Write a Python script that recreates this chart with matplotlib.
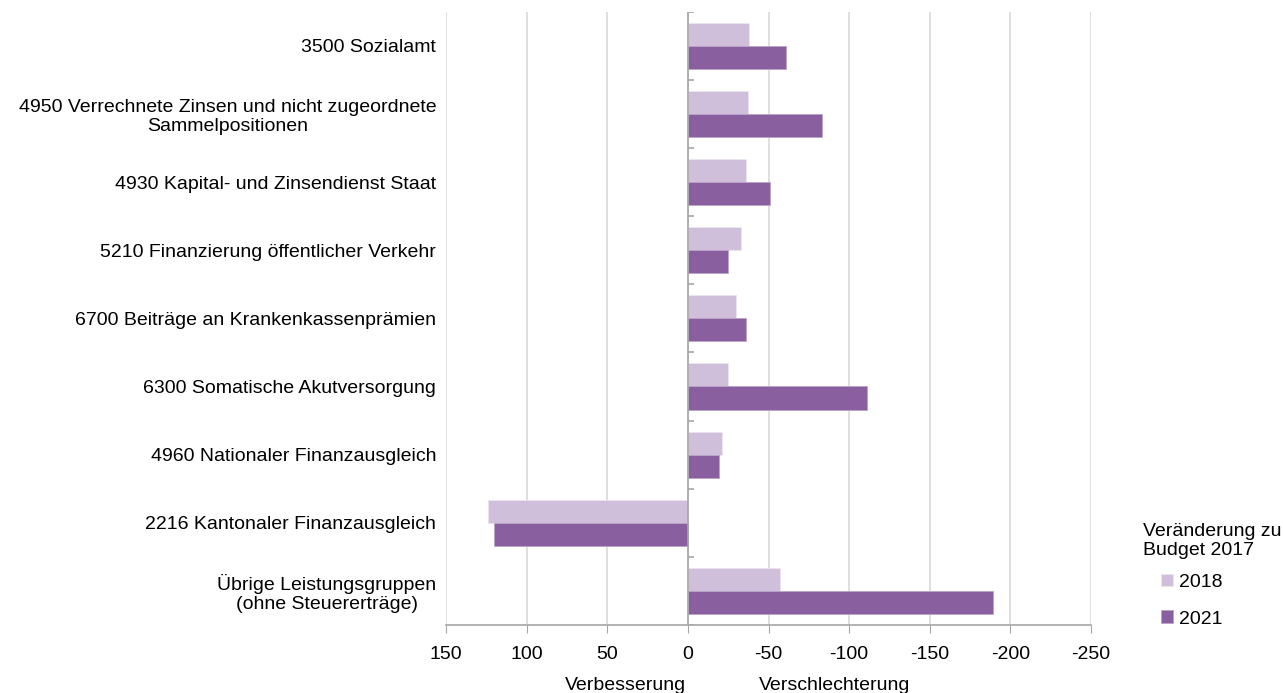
import matplotlib.pyplot as plt
import numpy as np

plt.rcParams["font.family"] = ["Liberation Sans", "DejaVu Sans"]

categories = [
    "3500 Sozialamt",
    "4950 Verrechnete Zinsen und nicht zugeordnete\nSammelpositionen",
    "4930 Kapital- und Zinsendienst Staat",
    "5210 Finanzierung öffentlicher Verkehr",
    "6700 Beiträge an Krankenkassenprämien",
    "6300 Somatische Akutversorgung",
    "4960 Nationaler Finanzausgleich",
    "2216 Kantonaler Finanzausgleich",
    "Übrige Leistungsgruppen\n(ohne Steuererträge)",
]
values_2018 = [-38, -37, -36, -33, -30, -25, -21, 124, -57]
values_2021 = [-61, -83, -51, -25, -36, -111, -19, 120, -189]
xticks = [150, 100, 50, 0, -50, -100, -150, -200, -250]

light = "#cfbfda"
dark = "#8a5f9f"
grid_col = "#d9d9d9"
axis_col = "#a6a6a6"
fs = 14

fig = plt.figure(figsize=(12.83, 6.93), dpi=100)
ax = fig.add_axes([446 / 1283, 1 - 625 / 693, (1091 - 446) / 1283, (625 - 11.7) / 693])

y = np.arange(len(categories))
h = 0.338
ax.barh(y - h / 2, values_2018, height=h, color=light, edgecolor="#ece4f1", linewidth=0.6, label="2018", zorder=3)
ax.barh(y + h / 2, values_2021, height=h, color=dark, edgecolor="#b9a3c7", linewidth=0.6, label="2021", zorder=3)

ax.set_xlim(150, -250)
ax.set_ylim(len(categories) - 0.5, -0.5)
ax.set_xticks(xticks)
ax.set_xticklabels([str(v) for v in xticks], fontsize=fs)
ax.set_yticks(y)
ax.set_yticklabels(categories, fontsize=fs, multialignment="center", linespacing=1.15)
ax.tick_params(axis="y", length=0, pad=7)
ax.tick_params(axis="x", length=6, color=axis_col, pad=9)

ax.grid(axis="x", color=grid_col, linewidth=1.2, zorder=0)
for side in ["top", "right", "left"]:
    ax.spines[side].set_visible(False)
ax.spines["bottom"].set_color(axis_col)
ax.spines["bottom"].set_linewidth(1.2)

# zero line with small ticks between the groups
ax.axvline(0, color=axis_col, linewidth=1.2, zorder=4)
ax.hlines(np.arange(len(categories) + 1) - 0.5, 0, -4, color=axis_col, linewidth=1.2, zorder=4)

fig.text(625 / 1283, 1 - 686 / 693, "Verbesserung", ha="center", va="center", fontsize=fs)
fig.text(835 / 1283, 1 - 686 / 693, "Verschlechterung", ha="center", va="center", fontsize=fs)

fig.text(1143 / 1283, 1 - 541 / 693, "Veränderung zu\nBudget 2017", ha="left", va="center", fontsize=fs, linespacing=1.1)
ax.legend(loc="upper left", bbox_to_anchor=(1161 / 1283, 1 - 574 / 693), bbox_transform=fig.transFigure,
          frameon=False, fontsize=fs, handlelength=0.6, handleheight=0.6, handletextpad=0.3,
          labelspacing=1.0, borderaxespad=0, borderpad=0)

fig.savefig("out.png", dpi=100)
